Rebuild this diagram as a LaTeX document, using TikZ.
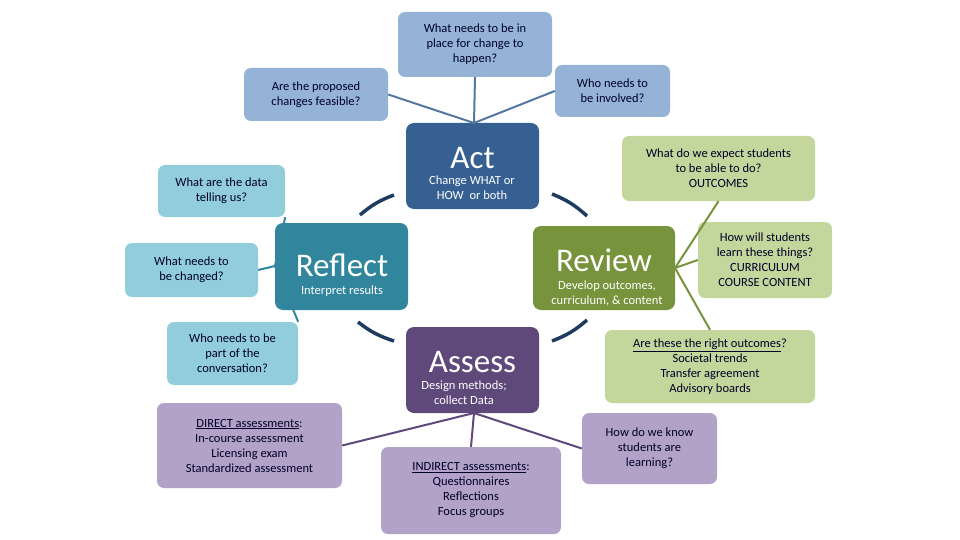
\documentclass[tikz,border=0pt]{standalone}
\usepackage{fontspec}
\setmainfont{Carlito}
\begin{document}
\begin{tikzpicture}[x=1pt,y=-1pt,
 main/.style={rounded corners=8pt,text=white,inner sep=0pt},
 outer/.style={rounded corners=7pt,text=black!75!blue!60!black,align=center,font=\fontsize{12.5}{15}\selectfont,inner sep=2pt},
 lnk/.style={line width=2pt},
 arc/.style={line width=3.5pt,color=arcc}]
\definecolor{cact}{HTML}{366092}\definecolor{cref}{HTML}{31859C}
\definecolor{crev}{HTML}{77933C}\definecolor{cass}{HTML}{5F497A}
\definecolor{lact}{HTML}{95B3D7}\definecolor{lref}{HTML}{92CDDC}
\definecolor{lrev}{HTML}{C3D69B}\definecolor{lass}{HTML}{B2A2C7}
\definecolor{arcc}{HTML}{1F3B5E}\definecolor{tx}{HTML}{1F2F45}
\path[use as bounding box] (0,0) rectangle (960,540);
% main boxes
\node[main,fill=cact,minimum width=133pt,minimum height=86pt] (act) at (472.5,166) {};
\node[text=white,font=\fontsize{33}{33}\selectfont] (actt) at (472.5,158) {Act};
\node[text=white,align=center,font=\fontsize{12.5}{15}\selectfont] (acts) at (472,188) {Change WHAT or\\HOW\ \ or both};
\node[main,fill=cref,minimum width=133pt,minimum height=87pt] (ref) at (341.5,266.5) {};
\node[text=white,font=\fontsize{33}{33}\selectfont] (reft) at (342,265) {Reflect};
\node[text=white,font=\fontsize{12.5}{15}\selectfont] (refs) at (342,291) {Interpret results};
\node[main,fill=crev,minimum width=142pt,minimum height=84pt] (rev) at (604,268) {};
\node[text=white,font=\fontsize{33}{33}\selectfont] (revt) at (604,260) {Review};
\node[text=white,align=center,font=\fontsize{12.5}{15}\selectfont] (revs) at (607,293) {Develop outcomes,\\curriculum, \& content};
\node[main,fill=cass,minimum width=133pt,minimum height=86pt] (ass) at (472.5,370) {};
\node[text=white,font=\fontsize{33}{33}\selectfont] (asst) at (472.5,362) {Assess};
\node[text=white,align=center,font=\fontsize{12.5}{15}\selectfont] (asss) at (464,393) {Design methods;\\collect Data};
% arcs
\draw[arc] (360,215) to[bend left=10] (394,195);
\draw[arc] (552,194) to[bend left=10] (587,216);
\draw[arc] (358,322) to[bend right=10] (394,341);
\draw[arc] (552,341) to[bend right=10] (587,320);
% outer boxes
\node[outer,fill=lact,minimum width=154pt,minimum height=65pt] (o1) at (475,44.5) {What needs to be in\\place for change to\\happen?};
\node[outer,fill=lact,minimum width=144pt,minimum height=53pt] (o2) at (316,94.5) {Are the proposed\\changes feasible?};
\node[outer,fill=lact,minimum width=115pt,minimum height=52pt] (o3) at (612.5,91) {Who needs to\\be involved?};
\node[outer,fill=lref,minimum width=127pt,minimum height=52pt] (o4) at (221.5,191) {What are the data\\telling us?};
\node[outer,fill=lref,minimum width=133pt,minimum height=54pt] (o5) at (191.5,270) {What needs to\\be changed?};
\node[outer,fill=lref,minimum width=131pt,minimum height=63pt] (o6) at (232.5,353.5) {Who needs to be\\part of the\\conversation?};
\node[outer,fill=lrev,minimum width=193pt,minimum height=65pt] (o7) at (718.5,168.5) {What do we expect students\\to be able to do?\\OUTCOMES};
\node[outer,fill=lrev,minimum width=134pt,minimum height=76pt] (o8) at (765,260) {How will students\\learn these things?\\CURRICULUM\\COURSE CONTENT};
\node[outer,fill=lrev,minimum width=210pt,minimum height=73pt] (o9) at (710,366.5) {\underline{Are these the right outcomes}?\\Societal trends\\Transfer agreement\\Advisory boards};
\node[outer,fill=lass,minimum width=185pt,minimum height=85pt] (o10) at (249.5,445.5) {\underline{DIRECT assessments}:\\In-course assessment\\Licensing exam\\Standardized assessment};
\node[outer,fill=lass,minimum width=180pt,minimum height=87pt] (o11) at (471,490.5) {\underline{INDIRECT assessments}:\\Questionnaires\\Reflections\\Focus groups};
\node[outer,fill=lass,minimum width=135pt,minimum height=71pt] (o12) at (649.5,448.5) {How do we know\\students are\\learning?};
% connectors
\coordinate (at) at (474,123);
\draw[lnk,color=cact!85] (at) -- (o1.south);
\draw[lnk,color=cact!85] (at) -- (o2.east);
\draw[lnk,color=cact!85] (at) -- (o3.west);
\coordinate (rl) at (275,266);
\draw[lnk,color=cref] (rl) -- (o4.south east);
\draw[lnk,color=cref] (rl) -- (o5.east);
\draw[lnk,color=cref] (rl) -- (o6.north east);
\coordinate (vr) at (675,268);
\draw[lnk,color=crev] (vr) -- (o7.south);
\draw[lnk,color=crev] (vr) -- (o8.west);
\draw[lnk,color=crev] (vr) -- (o9.north);
\coordinate (ab) at (474,413);
\draw[lnk,color=cass] (ab) -- (o10.east);
\draw[lnk,color=cass] (ab) -- (o11.north);
\draw[lnk,color=cass] (ab) -- (o12.west);
\end{tikzpicture}
\end{document}
